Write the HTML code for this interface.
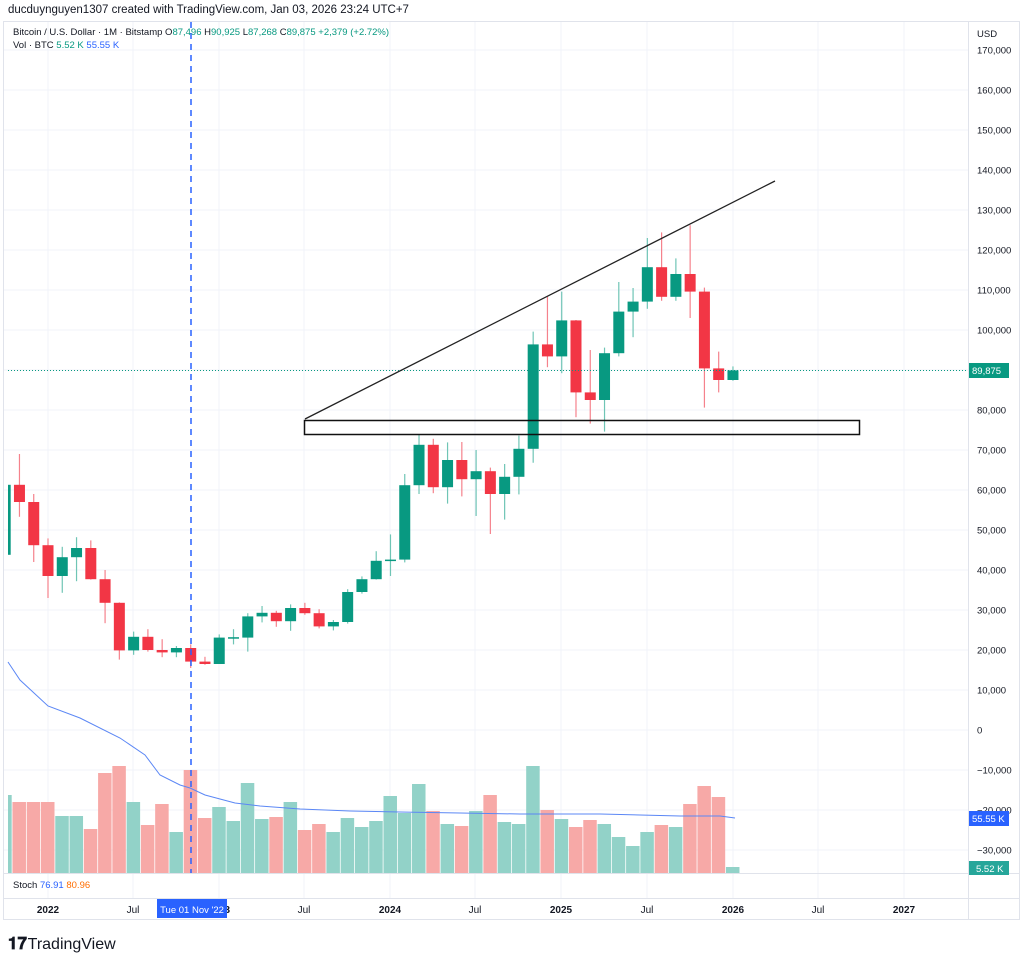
<!DOCTYPE html>
<html><head><meta charset="utf-8"><style>
body{margin:0;background:#fff;width:1024px;height:966px;overflow:hidden;font-family:"Liberation Sans",sans-serif}
svg{position:absolute;left:0;top:0}
</style></head><body>
<svg id="s" width="1024" height="966" xmlns="http://www.w3.org/2000/svg" font-family="Liberation Sans, sans-serif">
<text x="8" y="13" font-size="11.5" fill="#131722">ducduynguyen1307 created with TradingView.com, Jan 03, 2026 23:24 UTC+7</text>
<rect x="3.5" y="21.5" width="1016" height="898" fill="none" stroke="#e0e3eb"/>
<g id="grid" stroke="#f0f3fa" stroke-width="1"></g>
<line x1="968.5" y1="22" x2="968.5" y2="920" stroke="#e0e3eb"/>
<line x1="4" y1="873.5" x2="1019" y2="873.5" stroke="#e0e3eb"/>
<line x1="4" y1="898.5" x2="1019" y2="898.5" stroke="#e0e3eb"/>
<g id="vol"></g>
<g id="candles"></g>
<polyline fill="none" stroke="#5b87f5" stroke-width="1" points="8,662 20,680 48,706 80,718 120,738 145,755 160,775 180,785 190,788 205,795 235,803 260,806 300,809 350,811 400,812 460,813 520,814 600,814 640,815 680,816 720,816 735,818"/>
<line x1="191" y1="22" x2="191" y2="873" stroke="#2962ff" stroke-width="1.5" stroke-dasharray="6,5"/>
<line x1="8" y1="370.5" x2="968" y2="370.5" stroke="#089981" stroke-width="1" stroke-dasharray="1,2"/>
<line x1="305" y1="419" x2="775" y2="181" stroke="#222" stroke-width="1.3"/>
<rect x="304.5" y="420.5" width="555" height="14" fill="none" stroke="#111" stroke-width="1.5"/>
<g font-size="9.5" fill="#131722" id="ax">
<text x="977" y="37">USD</text>
</g>
<rect x="969" y="363" width="40" height="15" fill="#089981"/>
<text x="972" y="374" font-size="9.5" fill="#fff">89,875</text>
<rect x="969" y="811" width="40" height="15" fill="#2962ff"/>
<text x="972" y="822" font-size="9.5" fill="#fff">55.55 K</text>
<rect x="969" y="861" width="40" height="14" fill="#26a69a"/>
<text x="976" y="872" font-size="9.5" fill="#fff">5.52 K</text>
<text x="13" y="35" font-size="9.5" fill="#131722">Bitcoin / U.S. Dollar · 1M · Bitstamp <tspan>O</tspan><tspan fill="#089981">87,496</tspan> H<tspan fill="#089981">90,925</tspan> L<tspan fill="#089981">87,268</tspan> C<tspan fill="#089981">89,875</tspan> <tspan fill="#089981">+2,379 (+2.72%)</tspan></text>
<text x="13" y="48" font-size="9.5" fill="#131722">Vol · BTC <tspan fill="#089981">5.52 K</tspan> <tspan fill="#2962ff">55.55 K</tspan></text>
<text x="13" y="888" font-size="9.5" fill="#131722">Stoch <tspan fill="#2962ff">76.91</tspan> <tspan fill="#ff6d00">80.96</tspan></text>
<g font-size="10" fill="#131722" text-anchor="middle" font-weight="bold">
<text x="48" y="913">2022</text><text x="133" y="913" font-weight="normal">Jul</text><text x="219" y="913">2023</text>
<text x="304" y="913" font-weight="normal">Jul</text><text x="390" y="913">2024</text><text x="475" y="913" font-weight="normal">Jul</text>
<text x="561" y="913">2025</text><text x="647" y="913" font-weight="normal">Jul</text><text x="733" y="913">2026</text>
<text x="818" y="913" font-weight="normal">Jul</text><text x="904" y="913">2027</text>
</g>
<rect x="157" y="899" width="70" height="19" fill="#2962ff"/>
<text x="192" y="913" font-size="9.5" fill="#fff" text-anchor="middle">Tue 01 Nov '22</text>
<text x="8" y="949" font-size="17" font-weight="bold" fill="#131722">𝟏𝟕 <tspan font-weight="normal" font-size="16" dx="-4">TradingView</tspan></text>
</svg>
<script>
var ns="http://www.w3.org/2000/svg",s=document.getElementById('s');
function el(p,t,a){var e=document.createElementNS(ns,t);for(var k in a)e.setAttribute(k,a[k]);document.getElementById(p).appendChild(e);return e;}
function Y(p){return 730-p/250;}
for(var v=170000;v>=-30000;v-=10000){var y=Y(v);el('grid','line',{x1:4,x2:968,y1:y,y2:y});
var t=el('ax','text',{x:977,y:y+3.5});t.textContent=(v<0?'\u2212'+(-v).toLocaleString('en-US'):v.toLocaleString('en-US'));}
[48,133,219,304,390,475,561,647,733,818,904].forEach(function(x){el('grid','line',{x1:x,x2:x,y1:22,y2:898});});
var d=[[43800,67000,43300,61300],[61300,69000,53300,57000],[57000,59000,42000,46200],[46200,47900,33000,38500],[38500,45800,34300,43200],[43200,48200,37200,45500],[45500,47400,37600,37700],[37700,40000,26700,31800],[31800,31900,17600,19900],[19900,24600,18800,23300],[23300,25200,19600,20000],[20000,22700,18200,19400],[19400,21000,18200,20500],[20500,21400,15500,17100],[17100,18300,16300,16500],[16500,23900,16500,23100],[23100,25200,21400,23200],[23100,29200,19600,28400],[28400,31000,26900,29300],[29300,29800,25800,27200],[27200,31400,24800,30500],[30500,31800,28800,29200],[29200,30200,25400,25900],[25900,27500,24900,27000],[27000,35200,26600,34500],[34500,38400,34100,37700],[37700,44700,37600,42300],[42300,48900,38500,42600],[42600,64000,41900,61200],[61200,73800,59000,71300],[71300,72800,59200,60700],[60700,71900,56600,67500],[67500,72000,58400,62700],[62700,70000,53500,64700],[64700,65600,49000,59000],[59000,66500,52600,63300],[63300,73600,58900,70300],[70300,99600,66800,96400],[96400,108300,90700,93400],[93400,109600,89200,102400],[102400,102500,78200,84400],[84400,95000,76600,82500],[82500,95600,74600,94200],[94200,112000,93400,104600],[104600,110500,98200,107100],[107100,123000,105300,115700],[115700,124400,107300,108300],[108300,117900,107300,114000],[114000,126200,103000,109600],[109600,110600,80600,90400],[90400,94600,84400,87500],[87500,90900,87300,89900]];
var vt=[795,802,802,802,816,816,829,773,766,802,825,804,832,770,818,807,821,783,819,817,802,830,824,832,818,827,821,796,813,784,811,824,826,811,795,822,824,766,810,819,827,820,824,837,846,832,825,827,804,786,797,867];
for(var i=0;i<d.length;i++){var x=48+14.27*(i-3),o=d[i][0],h=d[i][1],l=d[i][2],c=d[i][3],up=c>=o;
var vc=up?'#92d2c8':'#f7a9a7',bx=Math.max(x-7,8);el('vol','rect',{x:bx,y:vt[i],width:x+6.5-bx,height:873-vt[i],fill:vc});
var col=up?'#089981':'#f23645';
if(x>=8)el('candles','line',{x1:x,x2:x,y1:Y(h),y2:Y(l),stroke:up?'#6fc5b5':'#f5828c','stroke-width':1.2});
var t1=Y(Math.max(o,c)),b1=Y(Math.min(o,c));var rx=Math.max(x-5.5,8);
el('candles','rect',{x:rx,y:t1,width:x+5.5-rx,height:Math.max(b1-t1,1.5),fill:col});}
</script>
</body></html>
